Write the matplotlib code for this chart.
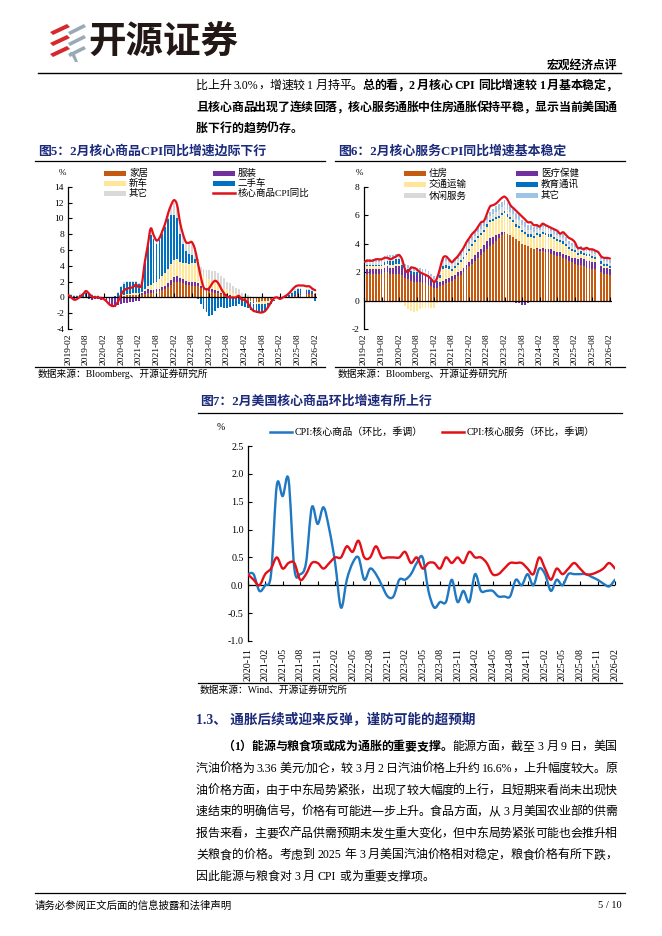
import re
import numpy as np
import pandas as pd
import matplotlib
matplotlib.use('Agg')
import matplotlib.pyplot as plt
from matplotlib.patches import Rectangle, Polygon, PathPatch
from matplotlib.path import Path
from matplotlib.lines import Line2D

plt.rcParams['font.family'] = ['Liberation Serif', 'Noto Sans CJK SC']
plt.rcParams['axes.unicode_minus'] = False

nan = np.nan

# ---------------- data: fig 5 core goods CPI yoy (%), 2019-02 .. 2026-02
months5 = pd.date_range('2019-02-01', '2026-02-01', freq='MS')
goods_yoy = [0.3, 0.0, -0.3, -0.2, 0.1, 0.4, 0.8, 0.5, 0.1, 0.0,
             0.0, -0.1, -0.2, -0.5, -0.9, -1.1, -1.0, -0.5, 0.4, 0.9,
             1.1, 1.2, 1.3, 1.6, 1.3, 1.7, 4.4, 6.5, 8.7, 7.9,
             7.2, 7.5, 8.4, 9.4, 10.7, 11.7, 12.3, 11.7, 9.5, 8.0,
             7.0, 6.9, 7.0, 6.2, 4.5, 2.7, 1.3, 1.0, 1.2, 1.8,
             2.1, 1.8, 1.1, 0.5, 0.1, 0.0, 0.0, 0.0, 0.2, -0.3,
             -0.3, -0.7, -1.3, -1.7, -1.8, -1.9, -1.9, -1.7, -1.2, -0.6,
             -0.1, 0.0, -0.2, 0.0, 0.2, 0.5, 0.9, 1.3, 1.5, 1.5,
             1.5, 1.4, 1.4, 1.1, 0.9]
home = [0.1, 0.1, 0.1, 0.1, 0.1, 0.1, 0.2, 0.1, 0.1, 0.1,
        0.1, 0.0, 0.0, 0.0, -0.1, 0.0, 0.0, 0.1, 0.2, 0.2,
        0.3, 0.3, 0.3, 0.3, 0.3, 0.3, 0.4, 0.5, 0.5, 0.6,
        0.7, 0.8, 0.9, 1.1, 1.3, 1.6, 1.9, 2.0, 1.9, 1.8,
        1.6, 1.6, 1.5, 1.5, 1.4, 1.2, 1.0, 0.9, 0.8, 0.7,
        0.6, 0.5, 0.4, 0.3, 0.2, 0.1, 0.0, -0.1, -0.1, -0.2,
        -0.3, -0.4, -0.5, -0.6, -0.6, -0.6, -0.5, -0.5, -0.4, -0.3,
        -0.2, -0.1, 0.0, 0.0, 0.1, 0.1, 0.2, 0.2, 0.3, 0.3,
        nan, 0.4, 0.4, 0.4, 0.3]
apparel = [-0.1, -0.1, -0.2, -0.1, 0.0, 0.0, 0.0, -0.2, -0.3, -0.2,
           -0.2, -0.3, -0.3, -0.5, -0.8, -1.1, -1.2, -1.0, -0.8, -0.7,
           -0.7, -0.6, -0.6, -0.5, -0.4, 0.2, 0.4, 0.5, 0.4, 0.3,
           0.3, 0.3, 0.4, 0.4, 0.5, 0.6, 0.7, 0.7, 0.6, 0.5,
           0.5, 0.4, 0.5, 0.5, 0.4, 0.3, 0.3, 0.3, 0.3, 0.3,
           0.3, 0.3, 0.2, 0.2, 0.2, 0.2, 0.1, 0.1, 0.1, 0.0,
           0.0, 0.0, 0.0, -0.1, 0.0, 0.0, 0.0, 0.0, 0.0, 0.0,
           0.0, 0.0, 0.0, 0.0, 0.0, 0.0, 0.0, 0.1, 0.1, 0.1,
           nan, 0.1, 0.1, 0.1, 0.1]
new_cars = [0.0, 0.0, 0.0, 0.0, 0.0, 0.0, 0.0, 0.0, 0.0, 0.0,
            0.0, 0.0, 0.0, 0.0, 0.0, 0.0, 0.0, 0.0, 0.1, 0.1,
            0.1, 0.1, 0.2, 0.2, 0.2, 0.2, 0.3, 0.5, 0.7, 0.9,
            1.0, 1.2, 1.4, 1.6, 1.8, 2.0, 2.1, 2.1, 2.0, 2.1,
            2.2, 2.2, 2.3, 2.3, 2.0, 1.7, 1.4, 1.3, 1.2, 1.1,
            1.0, 0.9, 0.8, 0.7, 0.6, 0.5, 0.4, 0.3, 0.2, 0.1,
            0.0, 0.0, -0.1, -0.1, -0.2, -0.2, -0.3, -0.3, -0.3, -0.2,
            -0.1, 0.0, 0.0, 0.0, 0.0, 0.0, 0.0, 0.0, 0.0, 0.0,
            nan, 0.0, 0.0, 0.0, 0.0]
used_cars = [0.2, 0.2, 0.1, 0.1, 0.2, 0.3, 0.4, 0.3, 0.2, 0.1,
             0.1, 0.1, 0.0, 0.0, -0.1, 0.0, 0.2, 0.5, 1.0, 1.4,
             1.6, 1.6, 1.5, 1.4, 1.2, 1.1, 3.3, 5.0, 6.3, 5.6,
             4.8, 4.9, 5.3, 5.8, 6.3, 6.2, 5.7, 5.3, 3.5, 2.4,
             1.6, 1.3, 1.0, 0.5, -0.2, -0.9, -1.5, -1.9, -2.4, -2.2,
             -1.7, -1.4, -1.2, -1.3, -1.3, -1.2, -1.1, -1.0, -0.8, -0.9,
             -0.9, -1.0, -1.0, -1.1, -1.2, -1.2, -1.1, -1.0, -0.7, -0.4,
             -0.2, 0.0, -0.2, 0.0, 0.1, 0.2, 0.4, 0.5, 0.6, 0.6,
             nan, 0.4, 0.4, 0.3, -0.5]
goods_other = [0.1, 0.1, 0.1, 0.1, 0.2, 0.2, 0.2, 0.2, 0.1, 0.1,
               0.1, 0.1, 0.1, 0.0, 0.0, 0.0, 0.0, 0.1, 0.2, 0.2,
               0.1, 0.1, 0.1, 0.2, 0.1, 0.1, 0.2, 0.3, 0.8, 0.5,
               0.4, 0.4, 0.5, 0.6, 0.8, 1.3, 1.6, 1.5, 1.5, 1.2,
               1.1, 1.3, 1.6, 1.5, 1.0, 0.6, 0.9, 1.0, 1.1, 1.2,
               1.4, 1.4, 1.3, 1.2, 1.0, 1.0, 1.0, 0.8, 0.7, 0.5,
               0.4, 0.3, 0.2, 0.1, 0.1, 0.1, 0.1, 0.1, 0.1, 0.1,
               0.1, 0.1, 0.1, 0.1, 0.1, 0.1, 0.1, 0.2, 0.2, 0.2,
               nan, 0.2, 0.2, 0.2, 0.2]
goods_names = ['家居', '服装', '新车', '二手车', '其它']
goods_line_name = '核心商品CPI同比'

# ---------------- data: fig 6 core services CPI yoy (%)
serv_yoy = [2.7, 2.8, 2.8, 2.8, 2.9, 2.9, 2.9, 3.0, 3.0, 2.9,
            3.0, 3.1, 3.2, 2.9, 2.2, 2.0, 2.3, 2.3, 2.2, 2.0,
            1.9, 1.8, 1.7, 1.5, 1.3, 1.6, 2.3, 3.0, 3.1, 2.9,
            2.7, 2.9, 3.1, 3.4, 3.7, 4.1, 4.4, 4.7, 4.9, 5.2,
            5.5, 5.6, 6.1, 6.6, 6.7, 6.8, 7.0, 7.2, 7.3, 7.1,
            6.7, 6.5, 6.3, 6.1, 5.9, 5.7, 5.5, 5.5, 5.3, 5.3,
            5.2, 5.4, 5.3, 5.2, 5.1, 5.0, 4.9, 4.7, 4.8, 4.6,
            4.4, 4.3, 4.1, 3.7, 3.7, 3.6, 3.7, 3.6, 3.6, 3.5,
            3.4, 3.1, 3.0, 3.0, 2.95]
shelter = [1.9, 1.9, 1.9, 1.9, 1.9, 1.9, 1.9, 2.0, 2.0, 1.9,
           1.9, 1.9, 1.9, 1.8, 1.6, 1.5, 1.4, 1.3, 1.3, 1.3,
           1.2, 1.2, 1.1, 1.0, 0.9, 0.9, 1.0, 1.1, 1.2, 1.3,
           1.4, 1.5, 1.7, 1.8, 2.0, 2.2, 2.4, 2.6, 2.8, 3.0,
           3.2, 3.4, 3.6, 3.8, 4.0, 4.2, 4.4, 4.6, 4.75, 4.7,
           4.6, 4.5, 4.3, 4.2, 4.0, 3.9, 3.8, 3.7, 3.6, 3.6,
           3.5, 3.5, 3.4, 3.4, 3.3, 3.2, 3.1, 3.1, 3.0, 2.9,
           2.8, 2.7, 2.6, 2.5, 2.5, 2.4, 2.3, 2.3, 2.2, 2.2,
           nan, 2.0, 1.9, 1.9, 1.8]
medical = [0.3, 0.3, 0.3, 0.3, 0.3, 0.3, 0.3, 0.3, 0.4, 0.4,
           0.4, 0.5, 0.5, 0.5, 0.5, 0.5, 0.5, 0.5, 0.5, 0.5,
           0.5, 0.5, 0.5, 0.4, 0.3, 0.3, 0.3, 0.3, 0.3, 0.3,
           0.3, 0.3, 0.3, 0.3, 0.3, 0.3, 0.3, 0.3, 0.4, 0.4,
           0.4, 0.5, 0.6, 0.6, 0.5, 0.4, 0.3, 0.2, 0.1, 0.0,
           -0.1, -0.1, -0.2, -0.2, -0.3, -0.3, -0.2, -0.1, 0.0, 0.1,
           0.1, 0.2, 0.2, 0.2, 0.3, 0.3, 0.3, 0.3, 0.3, 0.3,
           0.3, 0.3, 0.4, 0.4, 0.5, 0.5, 0.5, 0.5, 0.5, 0.5,
           nan, 0.4, 0.4, 0.4, 0.4]
transport = [0.2, 0.2, 0.2, 0.2, 0.2, 0.2, 0.2, 0.2, 0.2, 0.2,
             0.2, 0.2, 0.2, 0.0, -0.4, -0.6, -0.7, -0.8, -0.7, -0.6,
             -0.5, -0.5, -0.5, -0.5, -0.5, -0.2, 0.3, 0.8, 0.8, 0.6,
             0.4, 0.5, 0.5, 0.6, 0.6, 0.7, 0.8, 0.9, 0.9, 1.0,
             1.0, 0.9, 1.0, 1.1, 1.1, 1.1, 1.1, 1.2, 1.3, 1.2,
             1.1, 1.0, 0.9, 0.9, 0.8, 0.8, 0.7, 0.8, 0.8, 0.9,
             0.9, 1.0, 1.0, 0.9, 0.9, 0.8, 0.8, 0.7, 0.7, 0.6,
             0.5, 0.5, 0.4, 0.3, 0.3, 0.3, 0.3, 0.3, 0.3, 0.2,
             nan, 0.2, 0.1, 0.1, 0.1]
edu_comm = [0.1, 0.1, 0.1, 0.1, 0.1, 0.1, 0.1, 0.2, 0.2, 0.3,
            0.3, 0.3, 0.3, 0.2, 0.2, 0.2, 0.2, 0.2, 0.2, 0.2,
            0.2, 0.2, 0.2, 0.2, 0.2, 0.2, 0.2, 0.2, 0.2, 0.2,
            0.15, 0.15, 0.15, 0.15, 0.15, 0.15, 0.15, 0.15, 0.15, 0.15,
            0.15, 0.15, 0.15, 0.15, 0.15, 0.15, 0.15, 0.15, 0.15, 0.15,
            0.15, 0.15, 0.15, 0.15, 0.15, 0.15, 0.15, 0.15, 0.15, 0.15,
            0.15, 0.15, 0.15, 0.15, 0.15, 0.15, 0.15, 0.15, 0.15, 0.15,
            0.15, 0.15, 0.15, 0.15, 0.15, 0.15, 0.15, 0.15, 0.15, 0.15,
            nan, 0.15, 0.15, 0.15, 0.15]
recreation = [0.2, 0.2, 0.2, 0.2, 0.2, 0.2, 0.2, 0.2, 0.2, 0.2,
              0.2, 0.2, 0.2, 0.2, 0.1, 0.1, 0.1, 0.1, 0.1, 0.1,
              0.1, 0.1, 0.1, 0.1, 0.1, 0.1, 0.2, 0.3, 0.3, 0.3,
              0.3, 0.3, 0.3, 0.3, 0.3, 0.3, 0.3, 0.3, 0.3, 0.3,
              0.3, 0.3, 0.3, 0.3, 0.35, 0.4, 0.4, 0.4, 0.4, 0.4,
              0.4, 0.4, 0.4, 0.4, 0.35, 0.35, 0.3, 0.3, 0.3, 0.3,
              0.3, 0.3, 0.3, 0.3, 0.25, 0.25, 0.25, 0.25, 0.25, 0.25,
              0.2, 0.2, 0.2, 0.2, 0.2, 0.2, 0.2, 0.2, 0.2, 0.2,
              nan, 0.2, 0.2, 0.2, 0.2]
serv_other = [0.2, 0.2, 0.2, 0.2, 0.2, 0.2, 0.2, 0.2, 0.2, 0.2,
              0.2, 0.2, 0.2, 0.2, 0.2, 0.2, 0.2, 0.2, 0.2, 0.2,
              0.2, 0.2, 0.2, 0.2, 0.2, 0.2, 0.2, 0.2, 0.2, 0.2,
              0.2, 0.2, 0.2, 0.25, 0.25, 0.3, 0.3, 0.3, 0.3, 0.3,
              0.3, 0.3, 0.3, 0.3, 0.35, 0.4, 0.4, 0.4, 0.4, 0.4,
              0.4, 0.4, 0.4, 0.4, 0.35, 0.35, 0.35, 0.35, 0.3, 0.3,
              0.3, 0.3, 0.3, 0.3, 0.25, 0.25, 0.25, 0.25, 0.25, 0.25,
              0.2, 0.2, 0.2, 0.2, 0.2, 0.2, 0.2, 0.2, 0.2, 0.2,
              nan, 0.2, 0.2, 0.2, 0.2]
serv_names = ['住房', '医疗保健', '交通运输', '教育通讯', '休闲服务', '其它']

# ---------------- data: fig 7 mom sa (%), 2020-11 .. 2026-02
months7 = pd.date_range('2020-11-01', '2026-02-01', freq='MS')
goods_mom = [0.2, 0.2, -0.1, 0.0, 0.2, 1.8, 1.6, 1.9, 0.3, 0.2,
             0.4, 1.4, 1.1, 1.4, 1.0, 0.4, -0.4, 0.1, 0.4, 0.5,
             0.1, 0.3, 0.2, 0.0, -0.2, -0.2, 0.1, 0.1, 0.2, 0.4,
             0.5, -0.1, -0.4, -0.3, -0.3, 0.1, -0.3, -0.1, -0.3, 0.2,
             -0.1, -0.1, -0.1, -0.2, -0.2, -0.2, 0.1, 0.0, 0.2, 0.0,
             0.3, 0.2, -0.1, 0.1, 0.0, 0.2, 0.2, 0.2, 0.2, 0.15,
             0.1, 0.03, -0.02, 0.1]
serv_mom = [0.2, 0.1, 0.0, 0.2, 0.3, 0.5, 0.3, 0.4, 0.4, 0.1,
            0.2, 0.4, 0.4, 0.3, 0.4, 0.5, 0.5, 0.7, 0.6, 0.8,
            0.5, 0.5, 0.7, 0.5, 0.5, 0.5, 0.5, 0.6, 0.4, 0.5,
            0.3, 0.4, 0.4, 0.3, 0.5, 0.4, 0.5, 0.4, 0.6, 0.5,
            0.5, 0.4, 0.2, 0.2, 0.3, 0.4, 0.4, 0.4, 0.3, 0.2,
            0.5, 0.3, 0.1, 0.3, 0.2, 0.3, 0.4, 0.3, 0.2, 0.2,
            0.24, 0.3, 0.4, 0.3]
mom_names = ['CPI:核心商品（环比，季调）', 'CPI:核心服务（环比，季调）']

# ---------------- page setup
W, H = 662, 936
NAVY = '#1B2A7B'
RED = '#E3101A'
fig = plt.figure(figsize=(W / 100, H / 100), dpi=100)
rend = fig.canvas.get_renderer()


def fx(x):
    return x / W


def fy(y):
    return 1 - y / H


def add_ax(l, t, r, b):
    return fig.add_axes([fx(l), fy(b), (r - l) / W, (b - t) / H])


def hline(y, x0, x1, lw=0.9):
    fig.add_artist(Line2D([fx(x0), fx(x1)], [fy(y), fy(y)], color='black', lw=lw,
                          transform=fig.transFigure))


def text_line(x0, x1, y, segs, size=8.6, justify=True, color='black'):
    # justified line of mixed cjk / latin text, y = baseline in px
    items = []
    for s, bold in segs:
        for t in re.findall(r'[A-Za-z0-9.%/:]+|.', s):
            items.append((t, bold))
    arts, widths = [], []
    for t, bold in items:
        if t == ' ':
            arts.append(None)
            widths.append(size * 0.35)
            continue
        a = fig.text(0, fy(y), t, fontsize=size, fontweight='bold' if bold else 'normal',
                     va='baseline', ha='left', color=color)
        arts.append(a)
        widths.append(a.get_window_extent(rend).width)
    gap = (x1 - x0 - sum(widths)) / (len(items) - 1) if justify else 0
    x = x0
    for a, w in zip(arts, widths):
        if a is not None:
            a.set_x(fx(x))
        x += w + gap


def smooth_line(ax, x, y, color, lw=1.6):
    # excel-like smoothed line: cubic bezier segments through every data point
    p = np.column_stack([x, y]).astype(float)
    verts = [p[0]]
    codes = [Path.MOVETO]
    n = len(p)
    for i in range(n - 1):
        p0 = p[max(i - 1, 0)]
        p1, p2 = p[i], p[i + 1]
        p3 = p[min(i + 2, n - 1)]
        verts += [p1 + (p2 - p0) / 6, p2 - (p3 - p1) / 6, p2]
        codes += [Path.CURVE4] * 3
    ax.add_patch(PathPatch(Path(verts, codes), fill=False, edgecolor=color, lw=lw,
                           zorder=5, capstyle='round', joinstyle='round'))


def stack_bars(ax, x, series, colors, width=0.62):
    pos = np.zeros(len(x))
    neg = np.zeros(len(x))
    for vals, c in zip(series, colors):
        v = np.nan_to_num(np.array(vals, dtype=float))
        bottom = np.where(v >= 0, pos, neg)
        ax.bar(x, v, width, bottom=bottom, color=c, linewidth=0, zorder=2)
        pos = pos + np.clip(v, 0, None)
        neg = neg + np.clip(v, None, 0)


def style_axis(ax, tick_idx, labels, fs=6.8):
    for s in ['top', 'right', 'bottom']:
        ax.spines[s].set_visible(False)
    ax.spines['left'].set_linewidth(0.9)
    ax.axhline(0, color='black', lw=0.9, zorder=4)
    ax.plot(tick_idx, np.zeros(len(tick_idx)), ls='none', marker=2, ms=3,
            mew=0.8, color='black', zorder=4, clip_on=False)
    ax.set_xticks(tick_idx)
    ax.set_xticklabels(labels, rotation=90, fontsize=fs)
    ax.tick_params(axis='x', length=0, pad=3)
    ax.tick_params(axis='y', direction='in', length=3, width=0.8, labelsize=fs, pad=3)


def legend_box(x, y, color, label, kind='bar', size=6.8):
    if kind == 'bar':
        fig.add_artist(Rectangle((fx(x), fy(y + 2.5)), 22 / W, 5 / H, color=color,
                                 transform=fig.transFigure, lw=0))
    else:
        fig.add_artist(Line2D([fx(x), fx(x + 22)], [fy(y), fy(y)], color=color, lw=1.8,
                              transform=fig.transFigure))
    fig.text(fx(x + 25), fy(y), label, fontsize=size, va='center', ha='left')


# ---------------- header / logo
for k in range(3):
    y0 = 24 + k * 11
    fig.add_artist(Polygon([(fx(50), fy(y0 + 8)), (fx(67), fy(y0)), (fx(70), fy(y0 + 3)),
                            (fx(53), fy(y0 + 11))], closed=True, color='#D7282F',
                           transform=fig.transFigure, lw=0))
    fig.add_artist(Polygon([(fx(68), fy(y0 + 8)), (fx(84), fy(y0)), (fx(86), fy(y0 + 3)),
                            (fx(70), fy(y0 + 11))], closed=True, color='#9AAAB5',
                           transform=fig.transFigure, lw=0))
fig.add_artist(Polygon([(fx(70), fy(52)), (fx(74), fy(52)), (fx(78), fy(62)), (fx(75), fy(62))],
                       closed=True, color='#9AAAB5', transform=fig.transFigure, lw=0))
fig.text(fx(88), fy(41), '开源证券', fontsize=27, fontweight='bold', color='#231815',
         family=['Noto Sans CJK SC'], va='center', ha='left')
fig.text(fx(617), fy(66), '宏观经济点评', fontsize=8.5, fontweight='bold', va='center', ha='right')
hline(73, 38, 621, lw=1.0)

text_line(196, 617, 89, [('比上升 3.0%，增速较 1 月持平。', False),
                         ('总的看，2 月核心 CPI 同比增速较 1 月基本稳定，', True)])
text_line(196, 617, 111, [('且核心商品出现了连续回落，核心服务通胀中住房通胀保持平稳，显示当前美国通', True)])
text_line(196, 617, 132, [('胀下行的趋势仍存。', True)], justify=False)

# ---------------- fig 5
fig.text(fx(38), fy(151), '图5：2月核心商品CPI同比增速边际下行', fontsize=9.3, fontweight='bold',
         color=NAVY, va='center', ha='left')
hline(161, 35, 325)
ax5 = add_ax(68.3, 186.7, 317.3, 329)
x5 = np.arange(len(months5))
c5 = ['#C55A11', '#7030A0', '#FFE699', '#0070C0', '#D9D9D9']
stack_bars(ax5, x5, [home, apparel, new_cars, used_cars, goods_other], c5)
smooth_line(ax5, x5, goods_yoy, RED)
ax5.set_xlim(0, 84.7)
ax5.set_ylim(-4, 14)
ax5.set_yticks(range(-4, 15, 2))
style_axis(ax5, x5[::6], [m.strftime('%Y-%m') for m in months5[::6]])
fig.text(fx(62), fy(173), '%', fontsize=6.5, va='center', ha='center')
rows5 = [173.3, 183.3, 193.3]
legend_box(104, rows5[0], c5[0], goods_names[0])
legend_box(104, rows5[1], c5[2], goods_names[2])
legend_box(104, rows5[2], c5[4], goods_names[4])
legend_box(213, rows5[0], c5[1], goods_names[1])
legend_box(213, rows5[1], c5[3], goods_names[3])
legend_box(213, rows5[2], RED, goods_line_name, kind='line')
hline(367, 35, 325)
fig.text(fx(38), fy(374), '数据来源：Bloomberg、开源证券研究所', fontsize=7, va='center', ha='left')

# ---------------- fig 6
fig.text(fx(338), fy(151), '图6：2月核心服务CPI同比增速基本稳定', fontsize=9.3, fontweight='bold',
         color=NAVY, va='center', ha='left')
hline(161, 335, 625)
ax6 = add_ax(364, 186.7, 612, 329)
x6 = np.arange(len(months5))
c6 = ['#C55A11', '#7030A0', '#FFE699', '#0070C0', '#D9D9D9', '#9DC3E6']
stack_bars(ax6, x6, [shelter, medical, transport, edu_comm, recreation, serv_other], c6)
smooth_line(ax6, x6, serv_yoy, RED)
ax6.set_xlim(0, 84.7)
ax6.set_ylim(-2, 8)
ax6.set_yticks(range(-2, 9, 2))
style_axis(ax6, x6[::6], [m.strftime('%Y-%m') for m in months5[::6]])
fig.text(fx(359), fy(173), '%', fontsize=6.5, va='center', ha='center')
rows6 = [173.3, 184.3, 195.7]
legend_box(404, rows6[0], c6[0], serv_names[0])
legend_box(404, rows6[1], c6[2], serv_names[2])
legend_box(404, rows6[2], c6[4], serv_names[4])
legend_box(516, rows6[0], c6[1], serv_names[1])
legend_box(516, rows6[1], c6[3], serv_names[3])
legend_box(516, rows6[2], c6[5], serv_names[5])
hline(367, 335, 625)
fig.text(fx(338), fy(374), '数据来源：Bloomberg、开源证券研究所', fontsize=7, va='center', ha='left')

# ---------------- fig 7
fig.text(fx(200), fy(401), '图7：2月美国核心商品环比增速有所上行', fontsize=9.3, fontweight='bold',
         color=NAVY, va='center', ha='left')
hline(413, 198, 622)
ax7 = add_ax(247.7, 446, 615, 641)
x7 = np.arange(len(months7))
BLUE7 = '#1F78C1'
smooth_line(ax7, x7, goods_mom, BLUE7, lw=1.7)
smooth_line(ax7, x7, serv_mom, RED, lw=1.7)
ax7.set_xlim(0, len(months7) - 1)
ax7.set_ylim(-1.0, 2.5)
ax7.set_yticks(np.arange(-1.0, 2.51, 0.5))
ax7.set_yticklabels(['%.1f' % v for v in np.arange(-1.0, 2.51, 0.5)])
style_axis(ax7, x7[::3], [m.strftime('%Y-%m') for m in months7[::3]], fs=7.2)
ax7.tick_params(axis='x', pad=5)
fig.text(fx(221), fy(428), '%', fontsize=7, va='center', ha='center')
legend_box(270, 431.7, BLUE7, mom_names[0], kind='line', size=7.2)
legend_box(442, 431.7, RED, mom_names[1], kind='line', size=7.2)
hline(683, 198, 622)
fig.text(fx(200), fy(690), '数据来源：Wind、开源证券研究所', fontsize=7, va='center', ha='left')

# ---------------- section text
fig.text(fx(196), fy(719), '1.3、 通胀后续或迎来反弹，谨防可能的超预期', fontsize=9.8, fontweight='bold',
         color=NAVY, va='center', ha='left')
body = [
    '汽油价格为 3.36 美元/加仑，较 3 月 2 日汽油价格上升约 16.6%，上升幅度较大。原',
    '油价格方面，由于中东局势紧张，出现了较大幅度的上行，且短期来看尚未出现快',
    '速结束的明确信号，价格有可能进一步上升。食品方面，从 3 月美国农业部的供需',
    '报告来看，主要农产品供需预期未发生重大变化，但中东局势紧张可能也会推升相',
    '关粮食的价格。考虑到 2025 年 3 月美国汽油价格相对稳定，粮食价格有所下跌，',
]
text_line(222, 617, 750, [('（1）能源与粮食项或成为通胀的重要支撑。', True),
                          ('能源方面，截至 3 月 9 日，美国', False)])
for k, s in enumerate(body):
    text_line(196, 617, 772 + k * 21.6, [(s, False)])
text_line(196, 617, 880, [('因此能源与粮食对 3 月 CPI 或为重要支撑项。', False)], justify=False)

hline(893, 35, 625)
fig.text(fx(35), fy(906), '请务必参阅正文后面的信息披露和法律声明', fontsize=7.5, va='center', ha='left')
fig.text(fx(622), fy(906), '5 / 10', fontsize=7.5, va='center', ha='right')

fig.savefig('out.png', dpi=100)
